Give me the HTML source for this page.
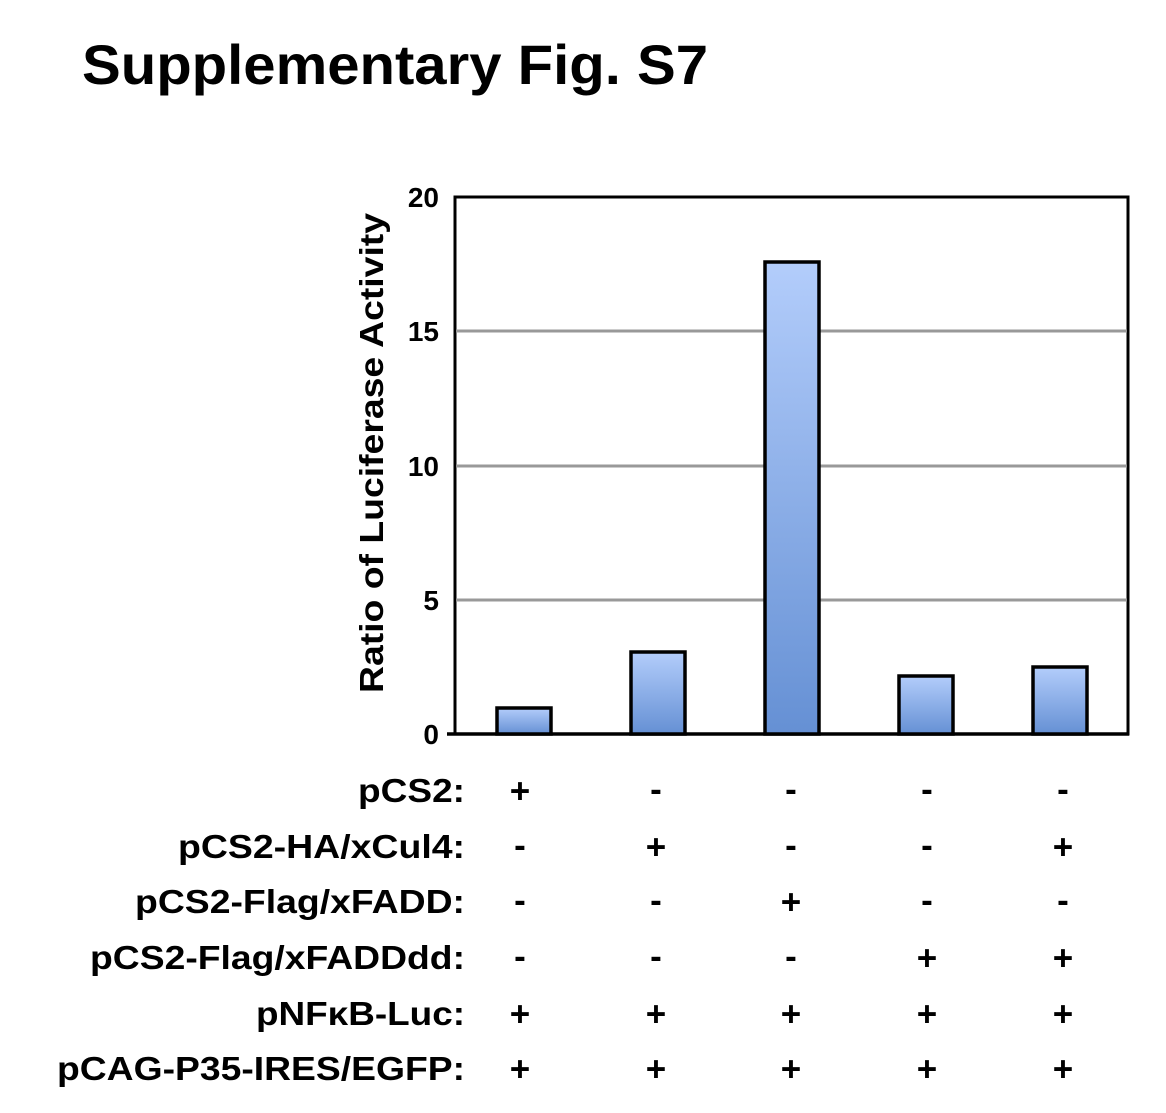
<!DOCTYPE html>
<html><head><style>
body{margin:0;background:#fff;}
svg text{font-family:"Liberation Sans",Arial,sans-serif;font-weight:bold;fill:#000;}
</style></head><body>
<svg width="1166" height="1108" viewBox="0 0 1166 1108" xmlns="http://www.w3.org/2000/svg">
<defs>
<linearGradient id="g" x1="0" y1="0" x2="0" y2="1">
<stop offset="0" stop-color="#b3cdfb"/>
<stop offset="1" stop-color="#6590d4"/>
</linearGradient>
</defs>
<text x="82" y="84" font-size="56" textLength="626" lengthAdjust="spacingAndGlyphs">Supplementary Fig. S7</text>
<rect x="455" y="197" width="673" height="537" fill="none" stroke="#000" stroke-width="3"/>
<g stroke="#999" stroke-width="3">
<line x1="456" y1="600" x2="1127" y2="600"/>
<line x1="456" y1="466" x2="1127" y2="466"/>
<line x1="456" y1="331" x2="1127" y2="331"/>
</g>
<line x1="447" y1="734" x2="1129" y2="734" stroke="#000" stroke-width="3.5"/>
<g stroke="#000" stroke-width="3.5" fill="url(#g)">
<rect x="497" y="708" width="54" height="26"/>
<rect x="631" y="652" width="54" height="82"/>
<rect x="765" y="262" width="54" height="472"/>
<rect x="899" y="676" width="54" height="58"/>
<rect x="1033" y="667" width="54" height="67"/>
</g>
<g font-size="28" text-anchor="end">
<text x="439" y="744">0</text>
<text x="439" y="610">5</text>
<text x="439" y="476">10</text>
<text x="439" y="341">15</text>
<text x="439" y="207">20</text>
</g>
<text transform="translate(383,453) rotate(-90)" font-size="33" text-anchor="middle" textLength="480" lengthAdjust="spacingAndGlyphs">Ratio of Luciferase Activity</text>
<g font-size="33" text-anchor="end">
<text x="465" y="802" textLength="107" lengthAdjust="spacingAndGlyphs">pCS2:</text>
<text x="465" y="858" textLength="287" lengthAdjust="spacingAndGlyphs">pCS2-HA/xCul4:</text>
<text x="465" y="913" textLength="330" lengthAdjust="spacingAndGlyphs">pCS2-Flag/xFADD:</text>
<text x="465" y="969" textLength="375" lengthAdjust="spacingAndGlyphs">pCS2-Flag/xFADDdd:</text>
<text x="465" y="1025" textLength="209" lengthAdjust="spacingAndGlyphs">pNFκB-Luc:</text>
<text x="465" y="1080" textLength="408" lengthAdjust="spacingAndGlyphs">pCAG-P35-IRES/EGFP:</text>
</g>
<g font-size="35" text-anchor="middle">
<text x="520" y="803">+</text><text x="656" y="801">-</text><text x="791" y="801">-</text><text x="927" y="801">-</text><text x="1063" y="801">-</text>
<text x="520" y="857">-</text><text x="656" y="859">+</text><text x="791" y="857">-</text><text x="927" y="857">-</text><text x="1063" y="859">+</text>
<text x="520" y="912">-</text><text x="656" y="912">-</text><text x="791" y="914">+</text><text x="927" y="912">-</text><text x="1063" y="912">-</text>
<text x="520" y="968">-</text><text x="656" y="968">-</text><text x="791" y="968">-</text><text x="927" y="970">+</text><text x="1063" y="970">+</text>
<text x="520" y="1026">+</text><text x="656" y="1026">+</text><text x="791" y="1026">+</text><text x="927" y="1026">+</text><text x="1063" y="1026">+</text>
<text x="520" y="1081">+</text><text x="656" y="1081">+</text><text x="791" y="1081">+</text><text x="927" y="1081">+</text><text x="1063" y="1081">+</text>
</g>
</svg>
</body></html>
